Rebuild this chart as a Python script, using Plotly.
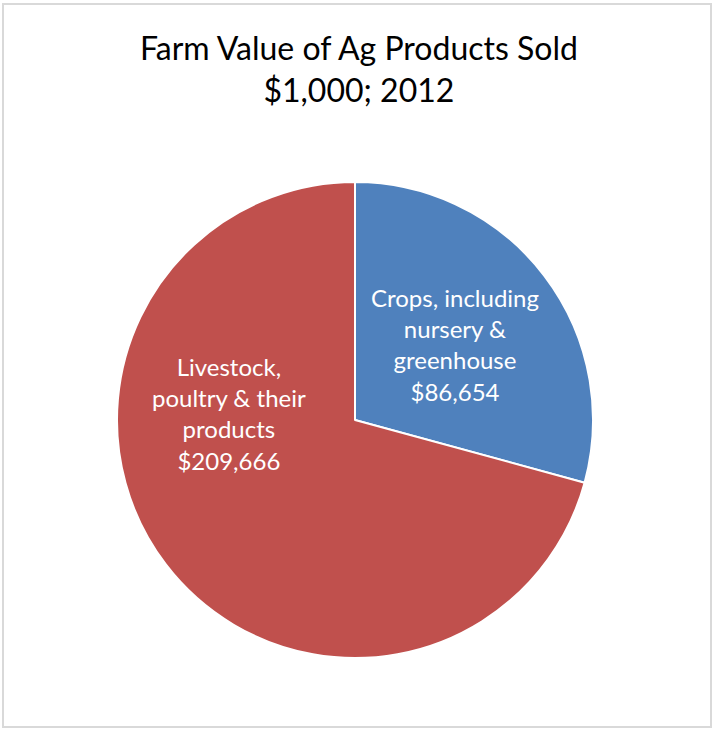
import plotly.graph_objects as go

categories = ["Crops, including<br>nursery &<br>greenhouse", "Livestock,<br>poultry & their<br>products"]
values = [86654, 209666]
colors = ["#4F81BD", "#C0504D"]
label_pos = [(455, 345), (229, 413)]  # pixel centers of label blocks

W, H = 715, 729
fig = go.Figure()
fig.add_trace(go.Pie(
    labels=categories, values=values, sort=False, direction="clockwise", rotation=0,
    marker=dict(colors=colors, line=dict(color="white", width=2)),
    textinfo="none", hoverinfo="label+value", showlegend=False,
    domain=dict(x=[(355-238)/W, (355+238)/W], y=[(H-658)/H, (H-182)/H]),
))

for cat, val, (px, py) in zip(categories, values, label_pos):
    fig.add_annotation(
        x=px / W, y=1 - py / H, xref="paper", yref="paper",
        xanchor="center", yanchor="middle",
        text=f"{cat}<br>${val:,}", showarrow=False,
        font=dict(family="Lato", size=24, color="white"), align="center",
    )

fig.add_shape(type="rect", xref="paper", yref="paper",
              x0=3/W, x1=711/W, y0=1-727/H, y1=1-4/H,
              line=dict(color="#D9D9D9", width=2))

fig.update_layout(
    width=W, height=H, margin=dict(l=0, r=0, t=0, b=0),
    paper_bgcolor="white", plot_bgcolor="white",
    title=dict(text="Farm Value of Ag Products Sold<br>$1,000; 2012",
               x=0.502, xanchor="center", y=1-60/H, yanchor="middle",
               font=dict(family="Lato", size=32, color="#000000")),
)
fig.write_html("out.html", config={"displayModeBar": False},
               post_script="document.body.style.margin='0';document.body.style.overflow='hidden';")
